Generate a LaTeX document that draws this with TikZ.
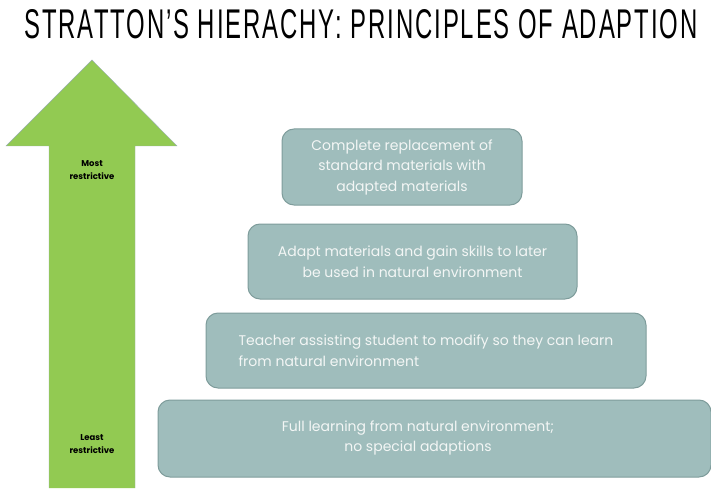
\documentclass[tikz,border=0pt]{standalone}
\usepackage{fontspec}
\setmainfont{Poppins}
\newfontfamily\titlefont[LetterSpace=8]{Liberation Sans}
\definecolor{boxfill}{HTML}{9FBDBC}
\definecolor{boxline}{HTML}{7E9C9B}
\definecolor{boxtext}{HTML}{F3F6F5}
\definecolor{arrowgreen}{HTML}{92CA52}
\definecolor{arrowline}{HTML}{9AAFB0}
\tikzset{
stage/.style={draw=boxline,fill=boxfill,rounded corners=12pt,line width=1pt,text=boxtext,font=\fontsize{14}{20.5}\selectfont,align=center,inner sep=0pt},
stagetext/.style={text=boxtext,font=\fontsize{14}{20.5}\selectfont,align=center},
side/.style={font=\fontsize{8.5}{13.5}\selectfont\bfseries,align=center}
}
\begin{document}
\begin{tikzpicture}[x=1pt,y=-1pt]
\useasboundingbox(0,0)rectangle(711,489);
\node(title) at (361,24.5){\resizebox{673pt}{29pt}{\titlefont STRATTON’S HIERACHY: PRINCIPLES OF ADAPTION}};

\draw[fill=arrowgreen,draw=arrowline](49,488)--(49,146)--(6,146)--(92,60)--(177,146)--(135,146)--(135,488);
\node(most) at (92,170)[side]{Most\\restrictive};
\node(least) at (92,444)[side]{Least\\restrictive};

\node(replace) at (402,167)[stage,minimum width=240,minimum height=76]{Complete replacement of\\standard materials with\\adapted materials};
\node(adapt) at (412.5,261.5)[stage,minimum width=329,minimum height=75]{Adapt materials and gain skills to later\\be used in natural environment};
\node(assist) at (426,350.5)[stage,minimum width=440,minimum height=75,align=left]{Teacher assisting student to modify so they can learn\\from natural environment};
\node(full) at (434.5,438.5)[stage,minimum width=553,minimum height=77]{};
\node(fulltext) at (418,438)[stagetext]{Full learning from natural environment;\\no special adaptions};

\end{tikzpicture}
\end{document}
